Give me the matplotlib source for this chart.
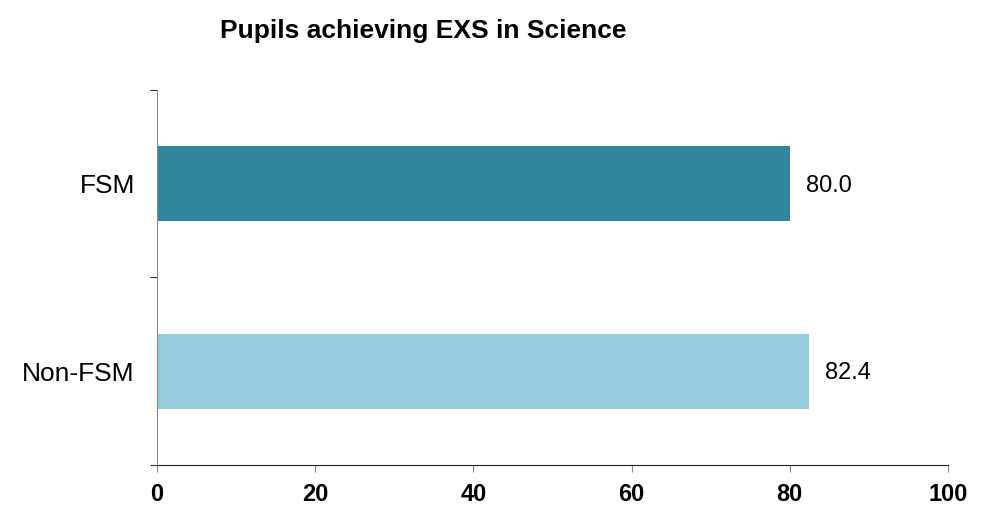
import matplotlib.pyplot as plt

plt.rcParams['font.family'] = ['Liberation Sans', 'DejaVu Sans']

groups = ['FSM', 'Non-FSM']
values = [80.0, 82.4]
colours = ['#31869E', '#94CCDD']
xticks = [0, 20, 40, 60, 80, 100]

fig = plt.figure(figsize=(9.81, 5.11), dpi=100)
ax = fig.add_axes([157 / 981, 1 - 465 / 511, (948 - 157) / 981, (465 - 90) / 511])

pos = list(range(len(groups)))
ax.barh(pos, values, height=0.4, color=colours)

for p, v in zip(pos, values):
    ax.text(v + 2.1, p + 0.01, f'{v:.1f}', va='center', ha='left', fontsize=17)

ax.set_xlim(0, 100)
ax.set_ylim(1.5, -0.5)
ax.set_xticks(xticks)
ax.set_xticklabels([str(t) for t in xticks], fontweight='bold', fontsize=17)
ax.set_yticks([-0.5, 0.5, 1.5])
ax.set_yticklabels([])
ax.set_yticks(pos, minor=True)
ax.set_yticklabels(groups, minor=True, fontsize=19)
ax.tick_params(axis='y', which='minor', length=0, pad=16)
ax.tick_params(axis='y', which='major', length=5, color='#333333')
ax.tick_params(axis='x', length=5, color='#888888', pad=8)

for s in ['top', 'right']:
    ax.spines[s].set_visible(False)
ax.spines['left'].set_color('#888888')
ax.spines['bottom'].set_color('#222222')

fig.text(423 / 981, 1 - 31 / 511, 'Pupils achieving EXS in Science',
         ha='center', va='center', fontsize=19, fontweight='bold')

fig.savefig('out.png', dpi=100)
